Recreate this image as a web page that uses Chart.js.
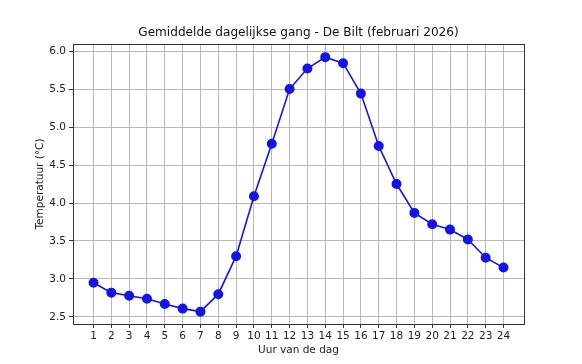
<!DOCTYPE html>
<html>
<head>
<meta charset="utf-8">
<script src="https://cdn.jsdelivr.net/npm/chart.js@4"></script>
<style>
html,body{margin:0;padding:0;background:#fff;}
#wrap{width:582px;height:364px;}
</style>
</head>
<body>
<div id="wrap"><canvas id="c" width="582" height="364"></canvas></div>
<script>
const hours = [1,2,3,4,5,6,7,8,9,10,11,12,13,14,15,16,17,18,19,20,21,22,23,24];
const temps = [2.95,2.82,2.78,2.74,2.67,2.61,2.57,2.80,3.30,4.09,4.78,5.50,5.77,5.92,5.84,5.44,4.75,4.25,3.87,3.72,3.65,3.52,3.28,3.15];
const yTicks = [2.5,3.0,3.5,4.0,4.5,5.0,5.5,6.0];
const titleText = 'Gemiddelde dagelijkse gang - De Bilt (februari 2026)';
const xLabel = 'Uur van de dag';
const yLabel = 'Temperatuur (°C)';

const FONT = "'DejaVu Sans', sans-serif";

const frame = {
  id: 'frame',
  afterDraw(chart) {
    const {ctx, chartArea: a} = chart;
    ctx.save();
    ctx.strokeStyle = '#333';
    ctx.lineWidth = 1;
    ctx.strokeRect(Math.round(a.left)+0.5, Math.round(a.top)+0.5, Math.round(a.right-a.left), Math.round(a.bottom-a.top));
    ctx.restore();
  }
};

new Chart(document.getElementById('c'), {
  type: 'line',
  data: {
    datasets: [{
      data: hours.map((h,i)=>({x:h,y:temps[i]})),
      borderColor: '#1414e6',
      backgroundColor: '#1414e6',
      borderWidth: 1.6,
      pointRadius: 4.2,
      pointHoverRadius: 4.2,
      tension: 0
    }]
  },
  options: {
    responsive: false,
    animation: false,
    events: [],
    layout: {padding: {left: 34, right: 19, top: 0, bottom: 7}},
    plugins: {
      legend: {display: false},
      tooltip: {enabled: false},
      title: {
        display: true,
        text: titleText,
        color: '#111',
        font: {family: FONT, size: 12.1, weight: 'normal'},
        padding: {top: 26, bottom: 3.5}
      }
    },
    scales: {
      x: {
        type: 'linear',
        min: -0.15,
        max: 25.15,
        afterBuildTicks(s){ s.ticks = hours.map(v=>({value:v})); },
        afterFit(s){ s.height = 33; },
        ticks: {
          color: '#222',
          font: {family: FONT, size: 10.5},
          padding: 2,
          maxRotation: 0,
          autoSkip: false,
          callback: v => String(v)
        },
        grid: {color: '#b8b8b8', lineWidth: 1, tickColor: '#333', tickLength: 4},
        border: {display: false},
        title: {display: true, text: xLabel, color: '#222', font: {family: FONT, size: 10.5}, padding: {top: 0, bottom: 0}}
      },
      y: {
        type: 'linear',
        position: 'left',
        min: 2.4075,
        max: 6.0925,
        afterBuildTicks(s){ s.ticks = yTicks.map(v=>({value:v})); },
        afterFit(s){ s.width = 39; },
        ticks: {
          color: '#222',
          font: {family: FONT, size: 10.5},
          padding: 3,
          callback: v => v.toFixed(1)
        },
        grid: {color: '#b8b8b8', lineWidth: 1, tickColor: '#333', tickLength: 4},
        border: {display: false},
        title: {display: true, text: yLabel, color: '#222', font: {family: FONT, size: 10.5}, padding: {top: 0, bottom: 0}}
      },
      yRight: {
        type: 'linear',
        position: 'right',
        display: true,
        min: 0,
        max: 1,
        afterFit(s){ s.width = 39; },
        ticks: {display: false},
        grid: {display: false, drawOnChartArea: false},
        border: {display: false}
      }
    }
  },
  plugins: [frame]
});
</script>
</body>
</html>
